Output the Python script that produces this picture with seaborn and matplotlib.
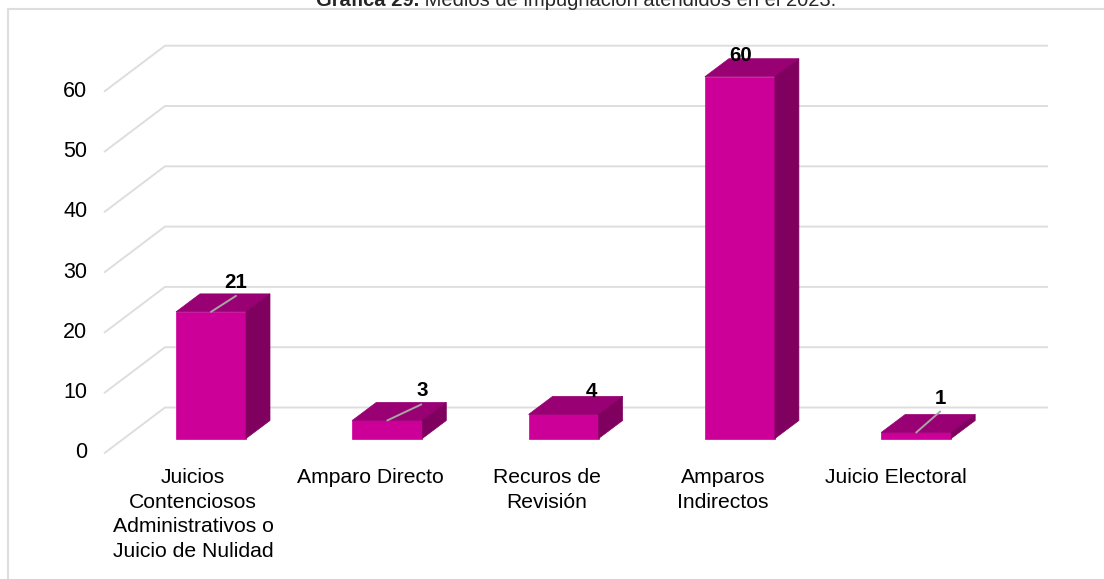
import matplotlib
matplotlib.use("Agg")
import matplotlib.pyplot as plt
import pandas as pd
import seaborn as sns
from matplotlib.patches import Polygon

categorias = ["Juicios\nContenciosos\nAdministrativos o\nJuicio de Nulidad", "Amparo Directo",
              "Recuros de\nRevisión", "Amparos\nIndirectos", "Juicio Electoral"]
valores = [21, 3, 4, 60, 1]
marcas_y = [0, 10, 20, 30, 40, 50, 60]
titulo_negrita = "Gráfica 29."
titulo_resto = " Medios de impugnación atendidos en el 2023."

FRENTE = "#cc0099"
TAPA = "#990073"
LADO = "#80005f"
GRID = "#dedede"

sns.set_theme(style="white")
plt.rcParams["font.family"] = ["Liberation Sans", "DejaVu Sans"]

W, H = 1104, 579
PX_X = 176.3   # pixels per category
PX_Y = 6.03    # pixels per unit
fig = plt.figure(figsize=(W / 100, H / 100), dpi=100)
ax = fig.add_axes([0, 0, 1, 1])

df = pd.DataFrame({"cat": categorias, "val": valores})
sns.barplot(data=df, x="cat", y="val", color=FRENTE, saturation=1, width=0.397, ax=ax, zorder=3,
            edgecolor=FRENTE, linewidth=0.5)

# full-figure axes, so the pixel scale is fixed by the limits
ax.set_xlim((0 - 211) / PX_X, (W - 211) / PX_X)
ax.set_ylim((438.5 - H) / PX_Y, 438.5 / PX_Y)
ax.axis("off")

dx = 24 / PX_X
dy = 18 / PX_Y
piso_y = 15 / PX_Y
ancho = 0.397 / 2

# back wall lines and the diagonal on the left side
x_fondo_izq = (165 - 211) / PX_X
x_frente_izq = (104 - 211) / PX_X
x_fondo_der = (1048 - 211) / PX_X
fondo = 31 / PX_Y  # back wall sits above the bar base
for m in marcas_y:
    ax.plot([x_frente_izq, x_fondo_izq, x_fondo_der],
            [m - piso_y, m + fondo, m + fondo], color=GRID, lw=1.4, zorder=1, solid_capstyle="butt")
    ax.text((87.5 - 211) / PX_X, m - 14.5 / PX_Y, str(m), ha="right", va="center", fontsize=15.5, color="black")

# 3d faces and labels
lideres = {0: (25, 16), 1: (34, 16), 4: (24, 21)}
for i, v in enumerate(valores):
    izq, der = i - ancho, i + ancho
    ax.add_patch(Polygon([(izq, v), (der, v), (der + dx, v + dy), (izq + dx, v + dy)],
                         fc=TAPA, ec=TAPA, lw=0.5, zorder=4))
    ax.add_patch(Polygon([(der, 0), (der + dx, dy), (der + dx, v + dy), (der, v)],
                         fc=LADO, ec=LADO, lw=0.5, zorder=4))

etq_px = {0: (25, 29.5), 1: (35, 29.5), 2: (28, 23), 3: (1, 21), 4: (24, 33.5)}
for i, v in enumerate(valores):
    if i in lideres:
        a, b = lideres[i]
        ax.plot([i, i + a / PX_X], [v, v + b / PX_Y], color="#a6a6a6", lw=1.4, zorder=5)
    ox, oy = etq_px[i]
    ax.text(i + ox / PX_X, v + oy / PX_Y, str(v), ha="center", va="center", fontsize=14.8, fontweight="bold",
            color="black", zorder=6)

# category labels are not centred under their bars in the source
desvio_px = {0: -18, 1: -17, 2: -17, 3: -17, 4: -20}
for i, c in enumerate(categorias):
    ax.text(i + desvio_px[i] / PX_X, -29.5 / PX_Y, c, ha="center", va="top", fontsize=15.2, color="black",
            linespacing=1.37)

# frame and title, both in figure pixels
fig.add_artist(plt.Line2D([7.5 / W, 7.5 / W, 1], [0, 1 - 9 / H, 1 - 9 / H], color=GRID, lw=1.5))
t = fig.text(316 / W, 1 - 0.5 / H, titulo_negrita, fontweight="bold", fontsize=14.5, ha="left", va="center")
fig.canvas.draw()
bb = t.get_window_extent()
fig.text(bb.x1 / W, 1 - 0.5 / H, titulo_resto, fontsize=14.5, ha="left", va="center")

fig.savefig("out.png", dpi=100)
